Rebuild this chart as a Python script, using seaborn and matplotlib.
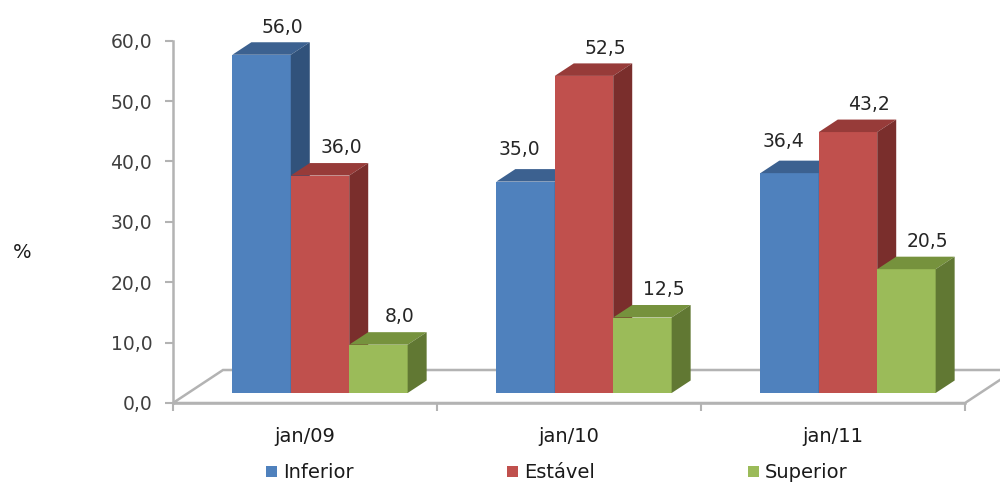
import numpy as np
import pandas as pd
import matplotlib
matplotlib.use("Agg")
import matplotlib.pyplot as plt
import matplotlib.colors as mcolors
from matplotlib.patches import Polygon
import seaborn as sns

# ---- data -------------------------------------------------------------
periods = ["jan/09", "jan/10", "jan/11"]
series = ["Inferior", "Estável", "Superior"]
inferior = [56.0, 35.0, 36.4]
estavel = [36.0, 52.5, 43.2]
superior = [8.0, 12.5, 20.5]
y_ticks = [0, 10, 20, 30, 40, 50, 60]

# ---- styling ----------------------------------------------------------
front_colors = ["#4F81BD", "#C0504D", "#9BBB59"]
top_colors = ["#3C6190", "#973B39", "#76923D"]
side_colors = ["#31527B", "#7A2E2C", "#617833"]
grid_grey = "#b3b3b3"

df = pd.DataFrame({
    "periodo": periods * 3,
    "serie": [s for s in series for _ in periods],
    "valor": inferior + estavel + superior,
})

sns.set_style("white")
plt.rcParams["font.family"] = ["DejaVu Sans"]

W, H = 1000, 487
fig = plt.figure(figsize=(W / 100, H / 100), dpi=100)


def px_rect(x0, y_bottom, w, h):
    """Figure-fraction rect from pixel values (y measured from the top)."""
    return [x0 / W, 1 - y_bottom / H, w / W, h / H]


ymax = 60
ppu = 6.04                      # pixels per percentage point
plot_w = 792                    # width of the floor's front edge
front_left, front_base = 173, 403
bar_shift_x, bar_shift_y = 15, 10   # bars sit partway into the floor depth

# front plane: value axis and the floor
ax_front = fig.add_axes(px_rect(front_left, front_base, plot_w, ymax * ppu))
# bar plane
ax = fig.add_axes(px_rect(front_left + bar_shift_x, front_base - bar_shift_y,
                          plot_w, ymax * ppu))

sns.barplot(data=df, x="periodo", y="valor", hue="serie", order=periods,
            hue_order=series, palette=front_colors, saturation=1,
            width=0.664, linewidth=0, ax=ax)

for a in (ax_front, ax):
    a.set_xlim(-0.5, len(periods) - 0.5)
    a.set_ylim(0, ymax)

ax.set_facecolor("none")
ax.set_axis_off()

handles, labels = ax.get_legend_handles_labels()
if ax.legend_ is not None:
    ax.legend_.remove()

# pixel scale of the bar plane -> data units for the depth offsets
x_ppu = plot_w / len(periods)
bar_dx, bar_dy = 19 / x_ppu, 12.5 / ppu

color_index = {mcolors.to_hex(c).lower(): i for i, c in enumerate(front_colors)}
bars = [p for p in ax.patches if p.get_height() > 0]
bars.sort(key=lambda p: p.get_x())

for i, p in enumerate(bars):
    x, w, h = p.get_x(), p.get_width(), p.get_height()
    k = color_index[mcolors.to_hex(p.get_facecolor()).lower()]
    z = 10 + 3 * i
    p.set_zorder(z)
    top = Polygon([(x, h), (x + w, h), (x + w + bar_dx, h + bar_dy),
                   (x + bar_dx, h + bar_dy)], closed=True,
                  facecolor=top_colors[k], edgecolor="none", zorder=z + 1,
                  clip_on=False)
    side = Polygon([(x + w, 0), (x + w + bar_dx, bar_dy),
                    (x + w + bar_dx, h + bar_dy), (x + w, h)], closed=True,
                   facecolor=side_colors[k], edgecolor="none", zorder=z + 2,
                   clip_on=False)
    ax.add_patch(top)
    ax.add_patch(side)

    # a taller neighbour on the right would hide the label: pull it left
    nxt = bars[i + 1] if i + 1 < len(bars) else None
    blocked = (nxt is not None and abs(nxt.get_x() - (x + w)) < 1e-6
               and nxt.get_height() > h)
    if blocked:
        lx, dx_pt, dy_pt = x + w / 2, -4.5, 10
    else:
        lx, dx_pt, dy_pt = x + w / 2 + bar_dx, 1.5, 7
    ax.annotate(f"{h:.1f}".replace(".", ","),
                xy=(lx, h + bar_dy), xytext=(dx_pt, dy_pt),
                textcoords="offset points", ha="center", va="baseline",
                fontsize=13.5, color="#262626", annotation_clip=False,
                zorder=100)

# ---- floor --------------------------------------------------------------
floor_dx, floor_dy = 50 / x_ppu, 33 / ppu
x0, x1 = -0.5, len(periods) - 0.5
floor = Polygon([(x0, 0), (x1, 0), (x1 + floor_dx, floor_dy),
                 (x0 + floor_dx, floor_dy)], closed=True, facecolor="none",
                edgecolor=grid_grey, linewidth=1.8, clip_on=False, zorder=1)
ax_front.add_patch(floor)

# ---- value axis ---------------------------------------------------------
ax_front.set_facecolor("none")
for side_name in ("top", "right"):
    ax_front.spines[side_name].set_visible(False)
for side_name in ("left", "bottom"):
    ax_front.spines[side_name].set_color(grid_grey)
    ax_front.spines[side_name].set_linewidth(1.8)

ax_front.set_yticks(y_ticks)
ax_front.set_yticklabels([f"{v:.1f}".replace(".", ",") for v in y_ticks])
ax_front.tick_params(axis="y", which="major", left=True, length=6, width=1.5,
                     color=grid_grey, pad=9, labelsize=13.5,
                     labelcolor="#404040")

ax_front.set_xticks(range(len(periods)))
ax_front.set_xticklabels(periods)
ax_front.set_xticks(np.arange(len(periods) + 1) - 0.5, minor=True)
ax_front.tick_params(axis="x", which="major", bottom=True, length=0, pad=17,
                     labelsize=14, labelcolor="#1a1a1a")
ax_front.tick_params(axis="x", which="minor", bottom=True, length=6, width=1.5,
                     color=grid_grey)
ax_front.set_xlabel("")
ax_front.set_ylabel("")
ax_front.grid(False)

fig.text(22 / W, 1 - 252 / H, "%", ha="center", va="center", fontsize=14,
         color="#1a1a1a")

fig.legend(handles, labels, loc="center", bbox_to_anchor=(0.557, 1 - 473 / H),
           ncol=3, frameon=False, fontsize=14, handlelength=0.55,
           handleheight=0.55, handletextpad=0.3, columnspacing=7.9,
           labelcolor="#1a1a1a")

fig.savefig("out.png", dpi=100, facecolor="white")
